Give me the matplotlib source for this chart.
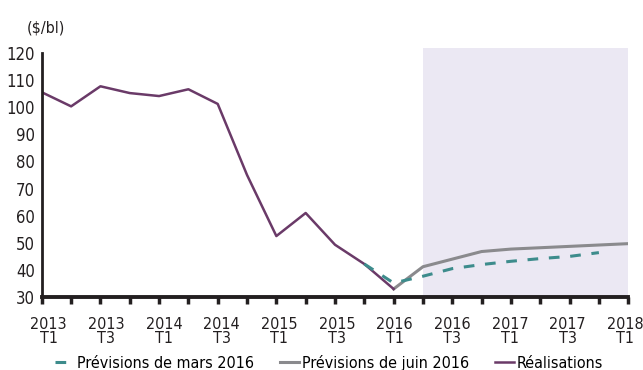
import matplotlib.pyplot as plt
from matplotlib.transforms import ScaledTranslation

# quarters 2013T1 .. 2018T1
quarters = ['2013\nT1', '', '2013\nT3', '', '2014\nT1', '', '2014\nT3', '',
            '2015\nT1', '', '2015\nT3', '', '2016\nT1', '', '2016\nT3', '',
            '2017\nT1', '', '2017\nT3', '', '2018\nT1']

realisations = [105.5, 100.3, 107.7, 105.2, 104.1, 106.6, 101.2, 75.0,
                52.5, 61.0, 49.3, 42.2, 33.0]
juin_2016 = [33.0, 41.2, 44.0, 46.8, 47.7, 48.2, 48.7, 49.2, 49.7]
mars_2016 = [42.2, 35.2, 37.7, 40.5, 42.0, 43.2, 44.2, 45.0, 46.4]

realisations_x = list(range(0, 13))
juin_x = list(range(12, 21))
mars_x = list(range(11, 20))
forecast_start, forecast_end = 13, 20

plt.rcParams['font.family'] = ['DejaVu Sans']
plt.rcParams['font.stretch'] = 'condensed'
plt.rcParams['font.size'] = 12

fig = plt.figure(figsize=(6.43, 3.70), dpi=100)
ax = fig.add_axes([0.065, 0.197, 0.912, 0.66])

ax.axvspan(forecast_start, forecast_end, ymin=0, ymax=1.02, color='#ebe8f3',
           lw=0, clip_on=False, zorder=0)

ax.plot(mars_x, mars_2016, color='#3d8c8c', lw=2.2, ls=(0, (3.5, 3.5)),
        label='Prévisions de mars 2016', zorder=3)
ax.plot(juin_x, juin_2016, color='#8a8a8d', lw=2.2,
        label='Prévisions de juin 2016', zorder=2)
ax.plot(realisations_x, realisations, color='#6a3a68', lw=1.8,
        label='Réalisations', zorder=2)

ax.set_xlim(0, 20)
ax.set_ylim(30, 120)
ax.set_yticks(range(30, 121, 10))
ax.set_xticks(range(0, 21))
ax.set_xticklabels(quarters, linespacing=0.9)
ax.tick_params(axis='x', direction='out', length=5, width=2.5, pad=9.5,
               labelsize=11.5, colors='#231f20')
ax.tick_params(axis='y', length=0, pad=5, labelsize=12, colors='#231f20')

# labels in the original drift slightly right of their ticks on the left side
labelled = [lab for lab in ax.get_xticklabels() if lab.get_text()]
for k, lab in enumerate(labelled):
    dx = (7 - 1.0 * k) / 100.0
    lab.set_transform(lab.get_transform() + ScaledTranslation(dx, 0, fig.dpi_scale_trans))

for s in ['top', 'right']:
    ax.spines[s].set_visible(False)
ax.spines['bottom'].set_linewidth(2.8)
ax.spines['left'].set_linewidth(2)
ax.spines['bottom'].set_color('#231f20')
ax.spines['left'].set_color('#231f20')

fig.text(0.042, 0.911, '($/bl)', fontsize=11.5, color='#231f20', va='baseline')

ax.legend(loc='center', bbox_to_anchor=(0.49, -0.27), ncol=3,
          frameon=False, handlelength=1.2, handletextpad=0.2,
          columnspacing=1.6, fontsize=11.5, borderaxespad=0)

fig.savefig('out.png', dpi=100)
